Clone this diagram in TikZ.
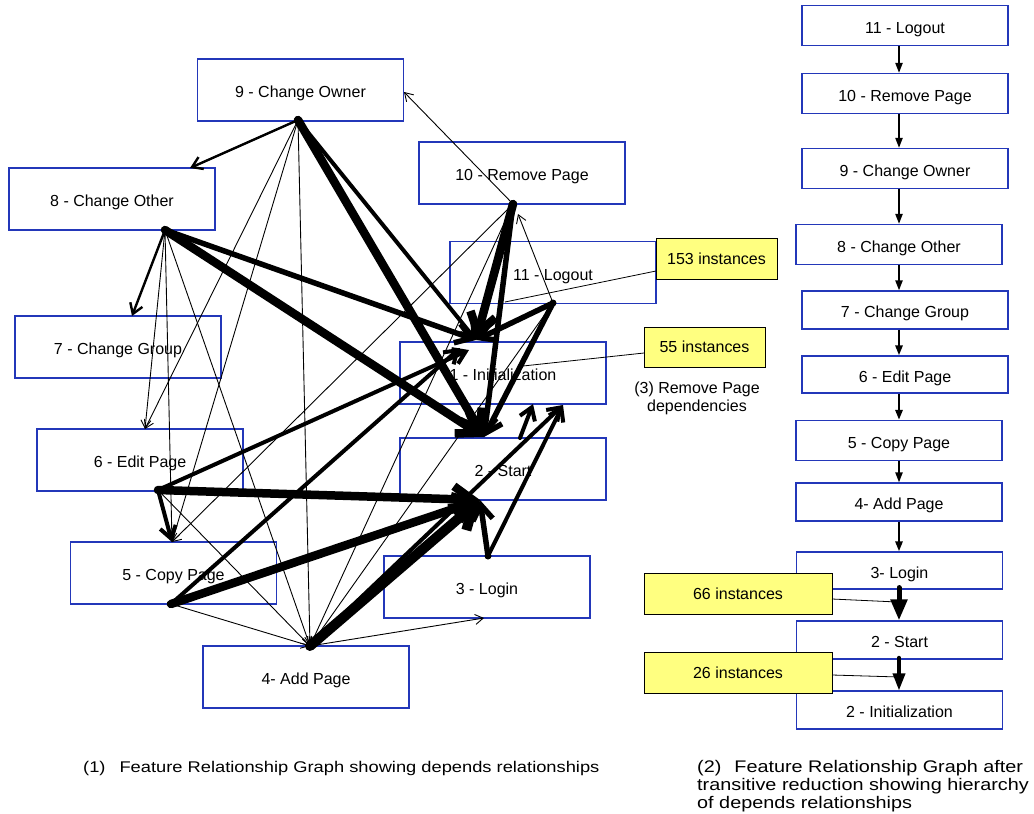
\documentclass[tikz,border=0pt]{standalone}
\usepackage{fontspec}
\setmainfont{Liberation Sans}
\newfontfamily\capfont[FakeStretch=1.18]{Liberation Sans}
\usetikzlibrary{arrows.meta}

\definecolor{boxblue}{RGB}{35,55,185}
\definecolor{noteyellow}{RGB}{255,255,128}

\begin{document}
\begin{tikzpicture}[x=1pt,y=-1pt,
  feat/.style={draw=boxblue, line width=1.1pt, fill=white, minimum width=206pt,
    minimum height=62pt, inner sep=0pt, text height=15pt, text depth=0pt,
    font=\fontsize{16}{19}\selectfont},
  chainbox/.style={feat, minimum height=40pt},
  note/.style={draw=black, line width=0.8pt, fill=noteyellow, inner sep=0pt,
    font=\fontsize{16}{19}\selectfont},
  callout/.style={line width=0.8pt},
  srcdot/.style={fill=black},
  dthin/.style={line width=0.9pt, -{Straight Barb[length=8pt,width=10pt]}},
  dlight/.style={line width=2.4pt, line cap=round, -{Straight Barb[length=10pt,width=13pt]}},
  dmed/.style={line width=4pt, line cap=round, -{Straight Barb[length=12pt,width=16pt]}},
  dmid/.style={line width=5.5pt, line cap=round, -{Straight Barb[length=15pt,width=20pt]}},
  dheavy/.style={line width=8.5pt, line cap=round, -{Straight Barb[length=19pt,width=26pt]}},
  dmax/.style={line width=10pt, line cap=round, -{Straight Barb[length=21pt,width=28pt]}},
  chain/.style={line width=2pt, -{Triangle[length=10pt,width=7pt]}},
  chainmid/.style={line width=3.5pt, line cap=round, -{Triangle[length=17pt,width=12pt]}},
  chainbig/.style={line width=5pt, line cap=round, -{Triangle[length=21pt,width=16pt]}},
  caption/.style={inner sep=0pt}
]
\useasboundingbox (0,0) rectangle (1034,814);

% ---------------- feature relationship graph ----------------
\node[feat] (g9)  at (300.5,90)  {9 - Change Owner};
\node[feat] (g8)  at (112,199)   {8 - Change Other};
\node[feat] (g7)  at (118,347)   {7 - Change Group};
\node[feat] (g10) at (522,173)   {10 - Remove Page};
\node[feat] (g11) at (553,272.5) {11 - Logout};
\node[feat] (g1)  at (503,373)   {1 - Initialization};
\node[feat] (g6)  at (140,460)   {6 - Edit Page};
\node[feat] (g2)  at (503,469)   {2 - Start};
\node[feat] (g5)  at (173.5,573) {5 - Copy Page};
\node[feat] (g3)  at (487,587)   {3 - Login};
\node[feat] (g4)  at (306,677)   {4- Add Page};

% edge sources
\coordinate (s9)  at (298,120);
\coordinate (s8)  at (165,230);
\coordinate (s10) at (513,204);
\coordinate (s11) at (553,303);
\coordinate (s6)  at (158,490);
\coordinate (s5)  at (171,604);
\coordinate (s4)  at (310,646);
\coordinate (s3)  at (488,556);
\coordinate (s2)  at (520,438);
% edge targets
\coordinate (t9)  at (404,92);
\coordinate (t8)  at (190,168);
\coordinate (t10) at (518,214);
\coordinate (t7)  at (132,316);
\coordinate (t6)  at (145,429);
\coordinate (t5)  at (172,542);
\coordinate (t3)  at (484,618);
\coordinate (t1a) at (476,340);
\coordinate (t1b) at (469,350);
\coordinate (t1e) at (460,348);
\coordinate (t1c) at (563,405);
\coordinate (t1d) at (533,404);
\coordinate (t2a) at (484,437);
\coordinate (t2b) at (480,500);

% light dependencies
\draw[dthin] (s9) -- (t6);
\draw[dthin] (s9) -- (t5);
\draw[dthin] (s9) -- (s4);
\draw[dthin] (s8) -- (t6);
\draw[dthin] (s8) -- (t5);
\draw[dthin] (s8) -- (s4);
\draw[dthin] (s10) -- (t9);
\draw[dthin] (s10) -- (t5);
\draw[dthin] (s10) -- (s4);
\draw[dthin] (s11) -- (t10);
\draw[dthin] (s11) -- (s4);
\draw[dthin] (s6) -- (s4);
\draw[dthin] (s5) -- (s4);
\draw[dthin] (s4) -- (t3);

% heavier dependencies
\draw[dlight] (s9) -- (t8);
\draw[dlight] (s8) -- (t7);
\draw[dmed] (s9) -- (t1a);
\draw[dheavy] (s9) -- (t2a);
\draw[dmid] (s8) -- (t1a);
\draw[dheavy] (s8) -- (t2a);
\draw[dheavy] (s10) -- (t1a);
\draw[dmid] (s10) -- (t2a);
\draw[dmid] (s11) -- (t1a);
\draw[dmid] (s11) -- (t2a);
\draw[dmed] (s6) -- (t5);
\draw[dmed] (s6) -- (t1b);
\draw[dheavy] (s6) -- (t2b);
\draw[dmed] (s5) -- (t1e);
\draw[dheavy] (s5) -- (t2b);
\draw[dmax] (s4) -- (t2b);
\draw[dmed] (s4) -- (t1c);
\draw[dmid] (s3) -- (t2b);
\draw[dmed] (s3) -- (t1c);
\draw[dmed] (s2) -- (t1d);

% source dots
\foreach \p in {s9,s8,s10,s11,s6,s5,s4,s3}
  \fill[srcdot] (\p) circle (3.5pt);

% instance notes
\node[note, minimum width=121pt, minimum height=41pt] (n153) at (716.5,258.5) {153 instances};
\node[note, minimum width=121pt, minimum height=40pt] (n55)  at (704.5,347)   {55 instances};
\coordinate (n153a) at (656,271);
\coordinate (c153)  at (505,302);
\coordinate (n55a)  at (644,353);
\coordinate (c55)   at (523,366);
\draw[callout] (n153a) -- (c153);
\draw[callout] (n55a) -- (c55);
\node[font=\fontsize{16}{18}\selectfont, align=center, inner sep=0pt] (rp) at (697,398)
  {(3) Remove Page\\dependencies};

% ---------------- transitive reduction ----------------
\node[chainbox] (r11) at (905,25.5)  {11 - Logout};
\node[chainbox] (r10) at (905,93.5)  {10 - Remove Page};
\node[chainbox] (r9)  at (905,168.5) {9 - Change Owner};
\node[chainbox] (r8)  at (899,244.5) {8 - Change Other};
\node[chainbox, minimum height=38pt] (r7) at (905,310)   {7 - Change Group};
\node[chainbox, minimum height=37pt] (r6) at (905,374.5) {6 - Edit Page};
\node[chainbox] (r5)  at (899,440.5) {5 - Copy Page};
\node[chainbox, minimum height=38pt] (r4) at (899,502)   {4- Add Page};
\node[chainbox, minimum height=37pt] (r3) at (899.5,570.5) {3- Login};
\node[chainbox, minimum height=38pt] (r2) at (899.5,640)   {2 - Start};
\node[chainbox, minimum height=38pt] (r1) at (899.5,710)   {2 - Initialization};

\coordinate (ax) at (899,0);
\draw[chain] (r11.south -| ax) -- (r10.north -| ax);
\draw[chain] (r10.south -| ax) -- (r9.north -| ax);
\draw[chain] (r9.south -| ax) -- (r8.north -| ax);
\draw[chain] (r8.south -| ax) -- (r7.north -| ax);
\draw[chain, line width=2.6pt] (r7.south -| ax) -- (r6.north -| ax);
\draw[chain, line width=2.6pt] (r6.south -| ax) -- (r5.north -| ax);
\draw[chain] (r5.south -| ax) -- (r4.north -| ax);
\draw[chain, line width=2.4pt] (r4.south -| ax) -- (r3.north -| ax);
\draw[chainbig] ([yshift=2pt]r3.south -| ax) -- (r2.north -| ax);
\draw[chainmid] ([yshift=2pt]r2.south -| ax) -- (r1.north -| ax);

\node[note, minimum width=188pt, minimum height=41pt] (n66) at (738,593.5) {66 instances};
\node[note, minimum width=188pt, minimum height=41pt] (n26) at (738,672.5) {26 instances};
\coordinate (n66a) at (832,599);
\coordinate (c66)  at (897,602);
\coordinate (n26a) at (832,675);
\coordinate (c26)  at (899,677);
\draw[callout] (n66a) -- (c66);
\draw[callout] (n26a) -- (c26);

% ---------------- captions ----------------
\node[caption, font=\capfont\fontsize{15.5}{18}\selectfont, anchor=base west] (cap1) at (83,772)
  {(1)\hspace{14pt}Feature Relationship Graph showing depends relationships};
\node[caption, font=\capfont\fontsize{16.8}{18}\selectfont, anchor=north west, align=left] (cap2) at (697,760)
  {(2)\hspace{13pt}Feature Relationship Graph after\\transitive reduction showing hierarchy\\of depends relationships};
\end{tikzpicture}
\end{document}
